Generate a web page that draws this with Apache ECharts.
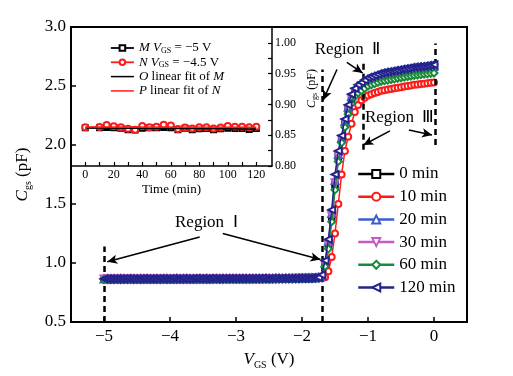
<!DOCTYPE html>
<html>
<head>
<meta charset="utf-8">
<script src="https://cdn.jsdelivr.net/npm/echarts@6.0.0/dist/echarts.min.js"></script>
<style>
html,body{margin:0;padding:0;background:#fff;}
#chart{width:513px;height:376px;}
</style>
</head>
<body>
<div id="chart"></div>
<script>
// ---------------- data ----------------
const vgs = [
-5,-4.95,-4.9,-4.85,-4.8,-4.75,-4.7,-4.65,-4.6,-4.55,
-4.5,-4.45,-4.4,-4.35,-4.3,-4.25,-4.2,-4.15,-4.1,-4.05,
-4,-3.95,-3.9,-3.85,-3.8,-3.75,-3.7,-3.65,-3.6,-3.55,
-3.5,-3.45,-3.4,-3.35,-3.3,-3.25,-3.2,-3.15,-3.1,-3.05,
-3,-2.95,-2.9,-2.85,-2.8,-2.75,-2.7,-2.65,-2.6,-2.55,
-2.5,-2.45,-2.4,-2.35,-2.3,-2.25,-2.2,-2.15,-2.1,-2.05,
-2,-1.95,-1.9,-1.85,-1.8,-1.75,
-1.7,-1.65,-1.6,-1.55,-1.5,-1.45,-1.4,-1.35,-1.3,-1.25,
-1.2,-1.15,-1.1,-1.05,-1,-0.95,-0.9,-0.85,-0.8,-0.75,
-0.7,-0.65,-0.6,-0.55,-0.5,-0.45,-0.4,-0.35,-0.3,-0.25,
-0.2,-0.15,-0.1,-0.05,0];

const cgs0min = [
0.864,0.864,0.863,0.864,0.864,0.863,0.864,0.865,0.864,0.864,
0.863,0.864,0.864,0.865,0.864,0.864,0.863,0.864,0.864,0.865,
0.864,0.864,0.865,0.864,0.864,0.865,0.864,0.865,0.865,0.864,
0.865,0.865,0.864,0.865,0.865,0.866,0.865,0.865,0.866,0.865,
0.866,0.865,0.866,0.866,0.865,0.866,0.866,0.867,0.866,0.866,
0.867,0.866,0.867,0.867,0.867,0.868,0.867,0.868,0.868,0.869,
0.869,0.870,0.870,0.871,0.873,0.876,
0.88,0.98,1.15,1.38,1.66,1.90,2.05,2.18,2.30,2.39,
2.45,2.48,2.51,2.53,2.55,2.56,2.57,2.58,2.59,2.595,
2.60,2.605,2.61,2.615,2.62,2.625,2.63,2.635,2.64,2.643,
2.646,2.65,2.653,2.657,2.66];

const cgs10min = [
0.862,0.863,0.862,0.862,0.863,0.862,0.863,0.862,0.862,0.863,
0.863,0.862,0.863,0.863,0.862,0.863,0.863,0.864,0.863,0.863,
0.863,0.864,0.863,0.864,0.863,0.864,0.864,0.863,0.864,0.864,
0.864,0.864,0.865,0.864,0.864,0.865,0.864,0.865,0.865,0.864,
0.865,0.865,0.865,0.866,0.865,0.865,0.866,0.866,0.865,0.866,
0.866,0.866,0.867,0.866,0.867,0.867,0.867,0.868,0.867,0.868,
0.868,0.868,0.869,0.869,0.870,0.871,
0.87,0.88,0.93,1.05,1.25,1.50,1.75,1.95,2.07,2.18,
2.28,2.34,2.38,2.40,2.42,2.43,2.44,2.45,2.46,2.465,
2.47,2.475,2.48,2.485,2.49,2.495,2.50,2.505,2.51,2.513,
2.516,2.52,2.523,2.527,2.53];

const cgs20min = [
0.865,0.865,0.864,0.865,0.865,0.866,0.865,0.865,0.864,0.865,
0.865,0.866,0.865,0.865,0.864,0.865,0.866,0.865,0.865,0.866,
0.865,0.865,0.866,0.865,0.866,0.866,0.865,0.866,0.865,0.866,
0.866,0.866,0.865,0.866,0.866,0.867,0.866,0.866,0.867,0.866,
0.867,0.866,0.867,0.867,0.866,0.867,0.867,0.868,0.867,0.867,
0.868,0.867,0.868,0.868,0.868,0.869,0.868,0.869,0.869,0.870,
0.870,0.871,0.871,0.872,0.874,0.877,
0.89,1.00,1.18,1.42,1.70,1.92,2.06,2.20,2.32,2.41,
2.46,2.49,2.52,2.54,2.56,2.57,2.58,2.59,2.60,2.605,
2.61,2.615,2.62,2.625,2.63,2.635,2.64,2.645,2.65,2.653,
2.656,2.66,2.663,2.667,2.67];

const cgs30min = [
0.865,0.864,0.865,0.865,0.864,0.865,0.866,0.865,0.864,0.865,
0.865,0.865,0.864,0.865,0.866,0.865,0.865,0.864,0.865,0.865,
0.866,0.865,0.865,0.866,0.865,0.865,0.866,0.866,0.865,0.866,
0.866,0.865,0.866,0.866,0.867,0.866,0.866,0.866,0.867,0.866,
0.866,0.867,0.867,0.866,0.867,0.867,0.868,0.867,0.867,0.868,
0.868,0.868,0.867,0.868,0.869,0.868,0.869,0.869,0.870,0.870,
0.870,0.871,0.872,0.872,0.874,0.877,
0.88,0.99,1.16,1.40,1.68,1.91,2.05,2.19,2.31,2.40,
2.45,2.48,2.50,2.52,2.54,2.55,2.56,2.57,2.58,2.585,
2.59,2.595,2.60,2.605,2.61,2.615,2.62,2.625,2.63,2.633,
2.636,2.64,2.643,2.647,2.65];

const cgs60min = [
0.860,0.861,0.860,0.860,0.861,0.860,0.860,0.861,0.861,0.860,
0.861,0.860,0.861,0.861,0.860,0.861,0.861,0.860,0.861,0.861,
0.861,0.862,0.861,0.861,0.862,0.861,0.862,0.861,0.862,0.862,
0.862,0.861,0.862,0.862,0.863,0.862,0.862,0.863,0.862,0.863,
0.863,0.863,0.862,0.863,0.863,0.864,0.863,0.863,0.864,0.864,
0.864,0.864,0.865,0.864,0.865,0.865,0.865,0.866,0.866,0.866,
0.867,0.867,0.868,0.869,0.870,0.873,
0.88,0.97,1.12,1.35,1.62,1.86,2.02,2.15,2.26,2.35,
2.41,2.44,2.46,2.48,2.50,2.51,2.52,2.53,2.54,2.545,
2.55,2.555,2.56,2.565,2.57,2.575,2.58,2.585,2.59,2.593,
2.596,2.60,2.603,2.607,2.61];

const cgs120min = [
0.866,0.865,0.866,0.866,0.865,0.866,0.866,0.867,0.866,0.865,
0.866,0.866,0.867,0.866,0.866,0.865,0.866,0.867,0.866,0.866,
0.866,0.867,0.866,0.866,0.867,0.866,0.866,0.867,0.867,0.866,
0.867,0.866,0.867,0.867,0.866,0.867,0.867,0.868,0.867,0.867,
0.867,0.868,0.867,0.868,0.868,0.867,0.868,0.868,0.869,0.868,
0.868,0.869,0.869,0.868,0.869,0.870,0.869,0.870,0.870,0.871,
0.871,0.872,0.872,0.873,0.875,0.878,
0.90,1.02,1.20,1.45,1.75,1.95,2.08,2.22,2.34,2.43,
2.48,2.51,2.53,2.55,2.57,2.58,2.59,2.60,2.61,2.615,
2.62,2.625,2.63,2.635,2.64,2.645,2.65,2.655,2.66,2.662,
2.665,2.668,2.672,2.676,2.68];

const seriesNames = ['0 min','10 min','20 min','30 min','60 min','120 min'];
const seriesValues = [cgs0min, cgs10min, cgs20min, cgs30min, cgs60min, cgs120min];

const xTicks = [-5,-4,-3,-2,-1,0];
const yTicks = [0.5,1.0,1.5,2.0,2.5,3.0];

// inset: Cgs at fixed VGS vs time
const insetTime = [0,10,15,20,25,30,35,40,45,50,55,60,65,70,75,80,85,90,95,100,105,110,115,120];
const insetM = [0.862,0.862,0.8625,0.862,0.8615,0.859,0.8585,0.8615,0.862,0.862,0.8625,0.862,
                0.859,0.8615,0.859,0.8605,0.861,0.859,0.8605,0.8615,0.861,0.861,0.8595,0.861];
const insetN = [0.8631,0.8636,0.8667,0.8647,0.8631,0.8605,0.859,0.8652,0.8631,0.864,0.8672,0.8657,
                0.860,0.8626,0.861,0.8631,0.8631,0.861,0.8626,0.8652,0.864,0.864,0.8631,0.864];
const insetXTicks = [0,20,40,60,80,100,120];
const insetXMinor = [0,10,20,30,40,50,60,70,80,90,100,110,120];
const insetYTicks = [0.80,0.85,0.90,0.95,1.00];
const insetYMinor = [0.80,0.825,0.85,0.875,0.90,0.925,0.95,0.975,1.00];

// annotations (data coordinates of the main plot)
const dashedLines = [
  [[-5,0.5],[-5,1.14]],
  [[-1.686,0.5],[-1.686,2.64]],
  [[-1.076,1.96],[-1.076,2.72]],
  [[0.02,2.0],[0.02,2.86]]
];
const arrowLines = [
  [[-3.55,1.22],[-4.95,1.01]],
  [[-3.2,1.25],[-1.72,1.03]],
  [[-1.47,2.64],[-1.68,2.38]],
  [[-1.32,2.70],[-1.08,2.61]],
  [[-0.667,2.12],[-1.07,2.0]],
  [[-0.38,2.127],[-0.03,2.085]]
];
const regionLabels = [
  {text:'Region  \u2160', at:[-3.45,1.34]},
  {text:'Region  \u2161', at:[-1.31,2.805]},
  {text:'Region  \u2162', at:[-0.52,2.23]}
];

// ---------------- chart ----------------
const SERIF = "'Liberation Serif','Times New Roman',serif";
const styles = [
  {color:'#000000', symbol:'emptyRect', rotate:0, size:5.5},
  {color:'#ff1a1a', symbol:'emptyCircle', rotate:0, size:6},
  {color:'#3a5fcd', symbol:'emptyTriangle', rotate:0, size:7},
  {color:'#c45ac4', symbol:'emptyTriangle', rotate:180, size:7},
  {color:'#1a8a3a', symbol:'emptyDiamond', rotate:0, size:7},
  {color:'#23238e', symbol:'emptyTriangle', rotate:90, size:7}
];
function fmtMinus(v){ return v < 0 ? '\u2212' + Math.abs(v) : String(v); }
function linFit(xs, ys){
  const n = xs.length; let sx=0, sy=0, sxx=0, sxy=0;
  for (let i=0;i<n;i++){ sx+=xs[i]; sy+=ys[i]; sxx+=xs[i]*xs[i]; sxy+=xs[i]*ys[i]; }
  const b = (n*sxy - sx*sy)/(n*sxx - sx*sx);
  const a = (sy - b*sx)/n;
  return [[xs[0], a+b*xs[0]], [xs[n-1], a+b*xs[n-1]]];
}

const mainSeries = seriesNames.map((name, k) => ({
  name, type:'line', xAxisIndex:0, yAxisIndex:0,
  data: vgs.map((v,i)=>[v, seriesValues[k][i]]),
  symbol: styles[k].symbol, symbolSize: styles[k].size, symbolRotate: styles[k].rotate,
  lineStyle:{color:styles[k].color, width:1.5},
  itemStyle:{color:styles[k].color, borderWidth:1.2},
  z: 3 + k
}));

const insetSeries = [
  {name:'M', type:'line', xAxisIndex:1, yAxisIndex:1, data: insetTime.map((t,i)=>[t, insetM[i]]),
   symbol:'emptyRect', symbolSize:5, lineStyle:{color:'#000', width:1}, itemStyle:{color:'#000', borderWidth:1}, z:10},
  {name:'N', type:'line', xAxisIndex:1, yAxisIndex:1, data: insetTime.map((t,i)=>[t, insetN[i]]),
   symbol:'emptyCircle', symbolSize:6, lineStyle:{color:'#ff1a1a', width:1}, itemStyle:{color:'#ff1a1a', borderWidth:1}, z:11},
  {name:'O', type:'line', xAxisIndex:1, yAxisIndex:1, data: linFit(insetTime, insetM),
   symbol:'none', lineStyle:{color:'#000', width:1.5}, itemStyle:{color:'#000'}, z:12},
  {name:'P', type:'line', xAxisIndex:1, yAxisIndex:1, data: linFit(insetTime, insetN),
   symbol:'none', lineStyle:{color:'#ff1a1a', width:1.5}, itemStyle:{color:'#ff1a1a'}, z:13}
];

const annotationSeries = [
  {name:'dashes', type:'line', xAxisIndex:0, yAxisIndex:0, data:[], silent:true,
   markLine:{silent:true, symbol:['none','none'], label:{show:false}, animation:false,
     lineStyle:{color:'#000', width:2.5, type:[6,4]},
     data: dashedLines.map(l => [{coord:l[0]},{coord:l[1]}])}},
  {name:'arrows', type:'line', xAxisIndex:0, yAxisIndex:0, data:[], silent:true,
   markLine:{silent:true, symbol:['none','arrow'], symbolSize:[7,10], label:{show:false}, animation:false,
     lineStyle:{color:'#000', width:1.5, type:'solid'},
     data: arrowLines.map(l => [{coord:l[0]},{coord:l[1]}])}}
];

const nameRich = (fs, sfs, lh) => ({
  i:{fontFamily:SERIF, fontStyle:'italic', fontSize:fs, lineHeight:lh, color:'#000'},
  s:{fontFamily:SERIF, fontSize:sfs, lineHeight:sfs, verticalAlign:'bottom', color:'#000'}
});

const insetLegendText = {
  M:'{i|M} {i|V}{s|GS} = \u22125 V',
  N:'{i|N} {i|V}{s|GS} = \u22124.5 V',
  O:'{i|O} linear fit of {i|M}',
  P:'{i|P} linear fit of {i|N}'
};

const option = {
  animation:false,
  backgroundColor:'#fff',
  grid:[
    {left:71, top:27, width:396, height:295, show:true, borderColor:'#000', borderWidth:2, backgroundColor:'rgba(0,0,0,0)'},
    {left:71, top:27, width:201, height:139, show:false}
  ],
  xAxis:[
    {gridIndex:0, type:'value', min:-5.5, max:0.5,
     axisLine:{show:true, onZero:false, lineStyle:{color:'#000', width:2}},
     axisTick:{show:true, inside:true, length:5, customValues:xTicks, lineStyle:{color:'#000', width:1.5}},
     axisLabel:{customValues:xTicks, formatter:fmtMinus, color:'#000', fontFamily:SERIF, fontSize:17, margin:6},
     splitLine:{show:false},
     name:'{i|V}{s|GS} (V)', nameLocation:'middle', nameGap:22,
     nameTextStyle:{color:'#000', fontFamily:SERIF, fontSize:17, lineHeight:20, rich:nameRich(17,10,20)}},
    {gridIndex:1, type:'value', min:-10, max:131, position:'bottom',
     axisLine:{show:true, onZero:false, lineStyle:{color:'#000', width:1.5}},
     axisTick:{show:true, inside:true, length:4, customValues:insetXMinor, lineStyle:{color:'#000', width:1.2}},
     axisLabel:{customValues:insetXTicks, color:'#000', fontFamily:SERIF, fontSize:12, margin:3},
     splitLine:{show:false},
     name:'Time (min)', nameLocation:'middle', nameGap:17,
     nameTextStyle:{color:'#000', fontFamily:SERIF, fontSize:13}}
  ],
  yAxis:[
    {gridIndex:0, type:'value', min:0.5, max:3.0, interval:0.5,
     axisLine:{show:true, onZero:false, lineStyle:{color:'#000', width:2}},
     axisTick:{show:true, inside:true, length:5, lineStyle:{color:'#000', width:1.5}},
     axisLabel:{formatter:v=>v.toFixed(1), color:'#000', fontFamily:SERIF, fontSize:17, margin:5},
     splitLine:{show:false},
     name:'{i|C}{s|gs} (pF)', nameLocation:'middle', nameRotate:90, nameGap:38,
     nameTextStyle:{color:'#000', fontFamily:SERIF, fontSize:17, lineHeight:20, rich:nameRich(17,10,20)}},
    {gridIndex:1, type:'value', min:0.8, max:1.026, position:'right',
     axisLine:{show:true, onZero:false, lineStyle:{color:'#000', width:1.5}},
     axisTick:{show:true, inside:true, length:4, customValues:insetYMinor, lineStyle:{color:'#000', width:1.2}},
     axisLabel:{customValues:insetYTicks, formatter:v=>v.toFixed(2), color:'#000', fontFamily:SERIF, fontSize:12, margin:3},
     splitLine:{show:false},
     name:'{i|C}{s|gs} (pF)', nameLocation:'middle', nameRotate:90, nameGap:33,
     nameTextStyle:{color:'#000', fontFamily:SERIF, fontSize:12, lineHeight:14, padding:[0,0,0,16], rich:nameRich(12,8,14)}}
  ],
  legend:[
    {data:seriesNames, orient:'vertical', left:357, top:165, padding:0, itemWidth:36, itemHeight:10, itemGap:4.7,
     lineStyle:{width:2.5}, selectedMode:false,
     textStyle:{color:'#000', fontFamily:SERIF, fontSize:17, lineHeight:18}},
    {data:[{name:'M'},{name:'N'},{name:'O', icon:'path://M0,0H40V2.6H0Z'},{name:'P', icon:'path://M0,0H40V2.6H0Z'}],
     orient:'vertical', left:110, top:41, padding:0, itemWidth:23, itemHeight:7, itemGap:0.3,
     lineStyle:{width:1.8}, selectedMode:false,
     formatter: n => insetLegendText[n],
     textStyle:{color:'#000', fontFamily:SERIF, fontSize:13, lineHeight:14, rich:nameRich(13,8,14)}}
  ],
  series: mainSeries.concat(insetSeries, annotationSeries)
};

const chart = echarts.init(document.getElementById('chart'), null, {renderer:'canvas'});
chart.setOption(option);
const g = regionLabels.map(r => {
  const p = chart.convertToPixel({xAxisIndex:0, yAxisIndex:0}, r.at);
  return {type:'text', x:p[0], y:p[1], z:50, silent:true,
    style:{text:r.text, fill:'#000', fontFamily:SERIF, fontSize:17, align:'center', verticalAlign:'middle'}};
});
chart.setOption({graphic:g});
</script>
</body>
</html>
